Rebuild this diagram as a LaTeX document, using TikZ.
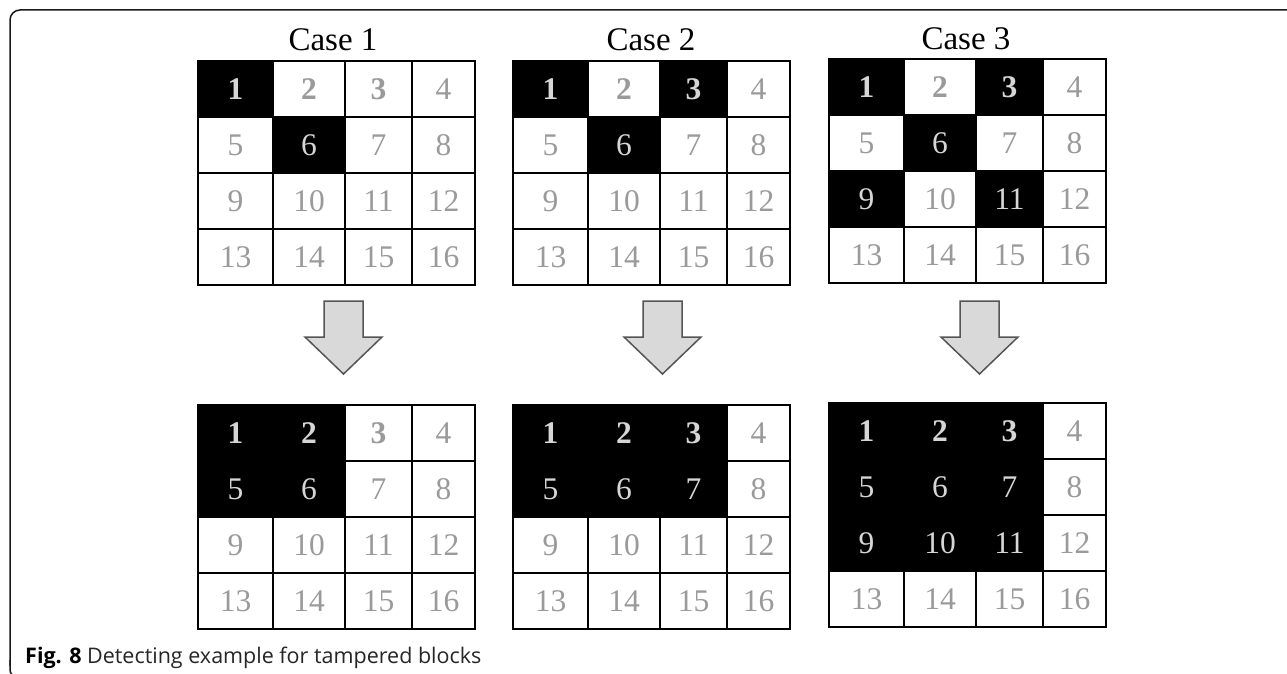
\documentclass[tikz,border=0pt]{standalone}
\usepackage{fontspec}
\setmainfont{Liberation Serif}
\newfontfamily\capfont{Open Sans}
\definecolor{numgray}{HTML}{9A9A9A}
\definecolor{numlight}{HTML}{D6D6D6}
\definecolor{arrowfill}{HTML}{D9D9D9}
\definecolor{arrowline}{HTML}{555555}
\makeatletter
\newcommand\SetCellLook[2]{%
  \edef\@tmpa{\noexpand\in@{,#1,}{,#2,}}\@tmpa
  \ifin@\gdef\cellfill{black}\gdef\celltext{numlight}\else\gdef\cellfill{white}\gdef\celltext{numgray}\fi
  \ifnum#1<4 \gdef\cellfont{\bfseries}\else\gdef\cellfont{}\fi}
\makeatother
\tikzset{
  cell/.style={draw=black, line width=2pt, inner sep=0pt, outer sep=0pt,
    minimum height=56pt, font=\fontsize{31.5}{31.5}\selectfont},
  casetitle/.style={inner sep=0pt, font=\fontsize{33}{33}\selectfont, text=black},
  barrow/.style={draw=arrowline, fill=arrowfill, line width=1.5pt, line join=miter},
  frameline/.style={draw=black!90, line width=1.5pt}
}
\newcommand\drawgrid[4]{%
  \foreach \r in {0,...,3}{%
    \foreach \c in {0,...,3}{%
      \pgfmathtruncatemacro\n{4*\r+\c+1}%
      \pgfmathsetmacro\xl{{0,75,147,214}[\c]}%
      \pgfmathsetmacro\xw{{75,72,67,63}[\c]}%
      \SetCellLook{\n}{#4}%
      \node[cell, minimum width=\xw pt, fill=\cellfill, text=\celltext] (#1-\n)
        at (#2+\xl+\xw/2, #3+56*\r+28) {\cellfont\n};
    }}}
\newcommand\blockarrow[2]{%
  \coordinate (#2) at (#1,301);
  \draw[barrow] ([xshift=-19.5pt]#2) -- ([xshift=19.5pt]#2) -- ([xshift=19.5pt,yshift=-36pt]#2)
    -- ([xshift=38.5pt,yshift=-36pt]#2) -- ([yshift=-73pt]#2) -- ([xshift=-38.5pt,yshift=-36pt]#2)
    -- ([xshift=-19.5pt,yshift=-36pt]#2) -- cycle;}
\begin{document}
\begin{tikzpicture}[x=1pt,y=-1pt]
\useasboundingbox (0,0) rectangle (1287,674);
\fill[white] (0,0) rectangle (1287,674);
% frame
\draw[frameline, rounded corners=10pt] (1290,10) -- (10,10) -- (10,666);
\draw[frameline, rounded corners=6pt] (10,660) -- (10,676) -- (17,676);
% titles
\node[casetitle] (t1) at (333,40) {Case 1};
\node[casetitle] (t2) at (651,40) {Case 2};
\node[casetitle] (t3) at (966,39) {Case 3};
% top grids
\drawgrid{a}{198}{61}{1,6}
\drawgrid{b}{513}{61}{1,3,6}
\drawgrid{c}{829}{59}{1,3,6,9,11}
% arrows
\blockarrow{343.5}{ar1}
\blockarrow{662.5}{ar2}
\blockarrow{979.5}{ar3}
% bottom grids
\drawgrid{d}{198}{405}{1,2,5,6}
\drawgrid{e}{513}{405}{1,2,3,5,6,7}
\drawgrid{f}{829}{403}{1,2,3,5,6,7,9,10,11}
% caption
\node[anchor=base west, inner sep=0pt, font=\capfont\fontsize{21.5}{21.5}\selectfont, text=black!85] (cap)
  at (25,663) {\textbf{\color{black}Fig. 8} Detecting example for tampered blocks};
\end{tikzpicture}
\end{document}
